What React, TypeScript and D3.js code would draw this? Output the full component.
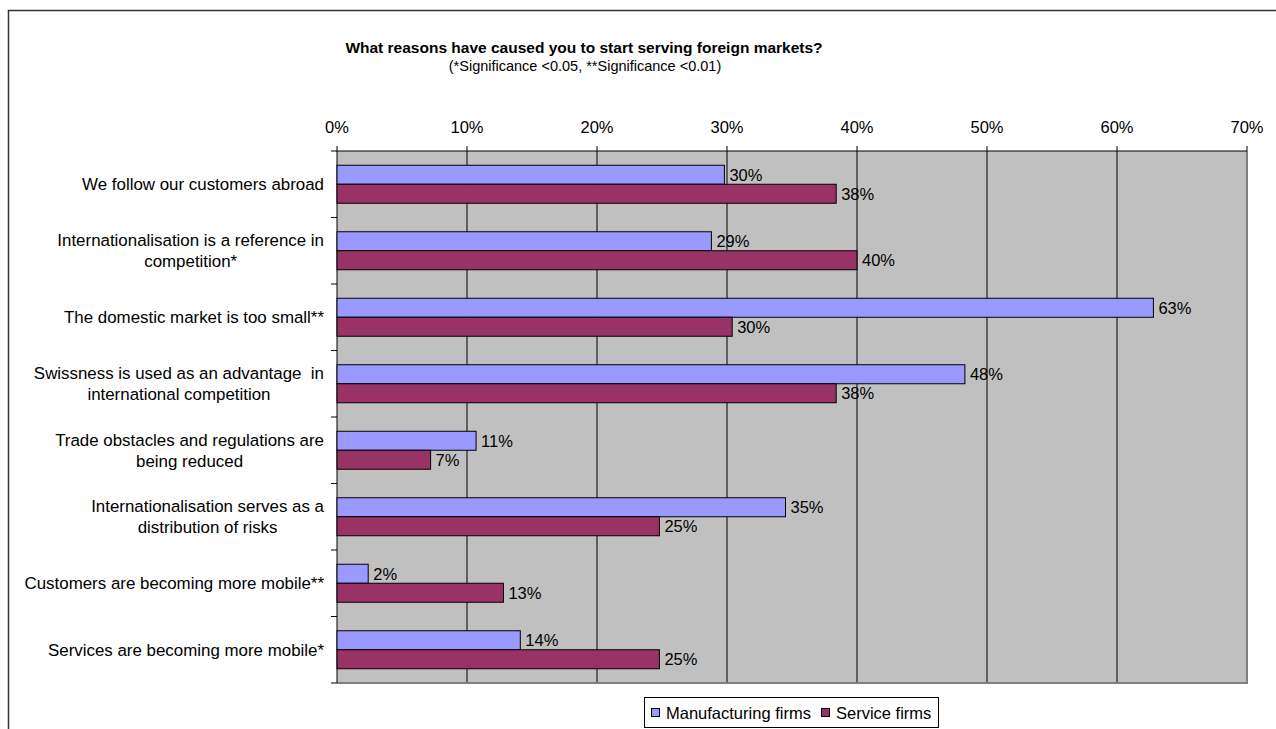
import React from "react";
import * as d3 from "d3";

const categories: string[][] = [
  ["We follow our customers abroad"],
  ["Internationalisation is a reference in", "competition*"],
  ["The domestic market is too small**"],
  ["Swissness is used as an advantage  in", "international competition"],
  ["Trade obstacles and regulations are", "being reduced"],
  ["Internationalisation serves as a", "distribution of risks"],
  ["Customers are becoming more mobile**"],
  ["Services are becoming more mobile*"],
];
const manufacturing = [29.8, 28.8, 62.8, 48.3, 10.7, 34.5, 2.4, 14.1];
const service = [38.4, 40.0, 30.4, 38.4, 7.2, 24.8, 12.8, 24.8];
const seriesNames = ["Manufacturing firms", "Service firms"];
const seriesColors = ["#9999FF", "#993366"];
const ticks = [0, 10, 20, 30, 40, 50, 60, 70];
const title = "What reasons have caused you to start serving foreign markets?";
const subtitle = "(*Significance <0.05, **Significance <0.01)";

const FONT = "'Liberation Sans', Arial, sans-serif";
const FS = 16.5;
const LFS = 16.9;

function measure(text: string, size: number, weight = "normal"): number {
  const c = document.createElement("canvas");
  const ctx = c.getContext("2d")!;
  ctx.font = `${weight} ${size}px ${FONT}`;
  return ctx.measureText(text).width;
}

export default function App() {
  const W = 1276, H = 729;
  const left = 337, right = 1247, top = 151, bottom = 683;
  const x = d3.scaleLinear().domain([0, 70]).range([left, right]);
  const y = d3.scaleBand<number>().domain(d3.range(categories.length)).range([top, bottom]);
  const bw = y.bandwidth();
  const barH = 19;
  const series = [manufacturing, service];

  return (
    <svg width={W} height={H} style={{ position: "absolute", left: 0, top: 0, background: "#fff" }} fontFamily={FONT}>
      <rect x={8.5} y={10.5} width={1400} height={1000} fill="#fff" stroke="#333" strokeWidth={1.5} />
      <text x={584} y={53} textAnchor="middle" fontWeight="bold" fontSize={15.5}>{title}</text>
      <text x={585} y={71} textAnchor="middle" fontSize={14.5}>{subtitle}</text>

      <rect x={left} y={top} width={right - left} height={bottom - top} fill="#C0C0C0" />
      {ticks.slice(1, -1).map((t) => (
        <line key={t} x1={x(t)} x2={x(t)} y1={top} y2={bottom} stroke="#000" strokeWidth={1} />
      ))}
      <line x1={right} x2={right} y1={top} y2={bottom + 1} stroke="#808080" strokeWidth={2} />
      <line x1={left} x2={right + 1} y1={bottom} y2={bottom} stroke="#808080" strokeWidth={2} />
      <line x1={left} x2={right} y1={top} y2={top} stroke="#000" strokeWidth={1} />
      <line x1={left} x2={left} y1={top} y2={bottom} stroke="#000" strokeWidth={1} />
      {ticks.map((t) => (
        <g key={t}>
          <line x1={x(t)} x2={x(t)} y1={top - 5} y2={top} stroke="#000" />
          <text x={x(t)} y={133} textAnchor="middle" fontSize={FS}>{t}%</text>
        </g>
      ))}
      {d3.range(categories.length + 1).map((i) => (
        <line key={i} x1={left - 6} x2={left} y1={top + i * bw} y2={top + i * bw} stroke="#000" />
      ))}

      {categories.map((lines, i) => {
        const maxW = Math.max(...lines.map((l) => measure(l, LFS)));
        const cx = 324 - maxW / 2;
        const cy = (y(i) as number) + bw / 2;
        const lh = 21;
        return (
          <text key={i} textAnchor="middle" fontSize={LFS}>
            {lines.map((l, j) => (
              <tspan key={j} x={cx} y={cy + (j - (lines.length - 1) / 2) * lh} dy="0.35em" style={{ whiteSpace: "pre" }}>
                {l}
              </tspan>
            ))}
          </text>
        );
      })}

      {series.map((vals, s) =>
        vals.map((v, i) => {
          const by = (y(i) as number) + bw / 2 - barH + s * barH;
          return (
            <g key={`${s}-${i}`}>
              <rect x={x(0)} y={by} width={x(v) - x(0)} height={barH} fill={seriesColors[s]} stroke="#000" strokeWidth={1} />
              <text x={x(v) + 5} y={by + barH / 2} dy="0.35em" fontSize={FS}>{Math.round(v)}%</text>
            </g>
          );
        })
      )}

      <g>
        <rect x={644.5} y={697.5} width={294} height={30} fill="#fff" stroke="#000" strokeWidth={1} />
        {seriesNames.map((n, s) => {
          const lx = s === 0 ? 651 : 821;
          return (
            <g key={n}>
              <rect x={lx + 0.5} y={708.5} width={8} height={8} fill={seriesColors[s]} stroke="#000" />
              <text x={lx + 15} y={713} dy="0.35em" fontSize={FS}>{n}</text>
            </g>
          );
        })}
      </g>
    </svg>
  );
}
